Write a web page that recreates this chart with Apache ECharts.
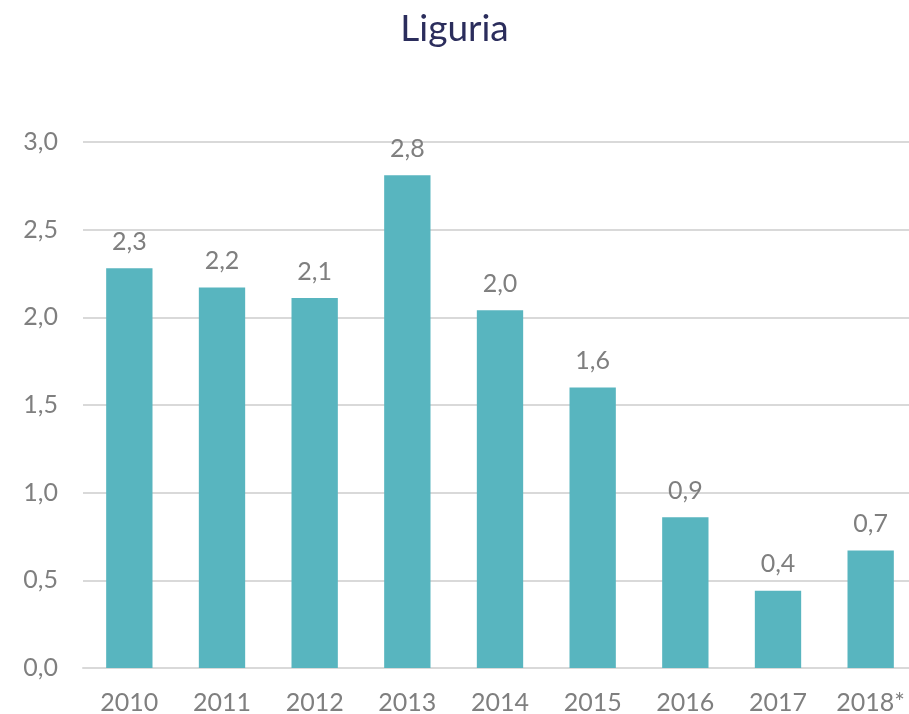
<!DOCTYPE html>
<html><head><meta charset="utf-8">
<script src="https://cdn.jsdelivr.net/npm/echarts@6/dist/echarts.min.js"></script>
<style>html,body{margin:0;padding:0;background:#fff}#c{width:909px;height:714px}</style>
</head><body><div id="c"></div>
<script>
const categories = ['2010','2011','2012','2013','2014','2015','2016','2017','2018*'];
const values = [2.28, 2.17, 2.11, 2.81, 2.04, 1.60, 0.86, 0.44, 0.67];
const yTicks = {min: 0, max: 3, interval: 0.5};
const fmt = v => Number(v).toFixed(1).replace('.', ',');
const chart = echarts.init(document.getElementById('c'));
chart.setOption({
  animation: false,
  title: {text: 'Liguria', left: 'center', top: 6,
    textStyle: {fontFamily: 'Lato', fontWeight: 'normal', fontSize: 37, color: '#2b2d5c'}},
  grid: {left: 83, width: 834, top: 142, height: 526, outerBoundsMode: 'none', containLabel: false},
  xAxis: {type: 'category', data: categories,
    axisLine: {lineStyle: {color: '#d9d9d9', width: 2}},
    axisTick: {show: false},
    axisLabel: {color: '#7f7f7f', fontFamily: 'Lato', fontSize: 25, margin: 22}},
  yAxis: {type: 'value', min: yTicks.min, max: yTicks.max, interval: yTicks.interval,
    axisLine: {show: false}, axisTick: {show: false},
    splitLine: {lineStyle: {color: '#d9d9d9', width: 2}},
    axisLabel: {color: '#7f7f7f', fontFamily: 'Lato', fontSize: 25, margin: 25, formatter: fmt}},
  series: [{type: 'bar', data: values, barWidth: '50%',
    itemStyle: {color: '#58b5bf'},
    label: {show: true, position: 'top', distance: 14, color: '#7f7f7f', fontFamily: 'Lato', fontSize: 25,
      formatter: p => fmt(p.value)}}]
});
</script></body></html>
